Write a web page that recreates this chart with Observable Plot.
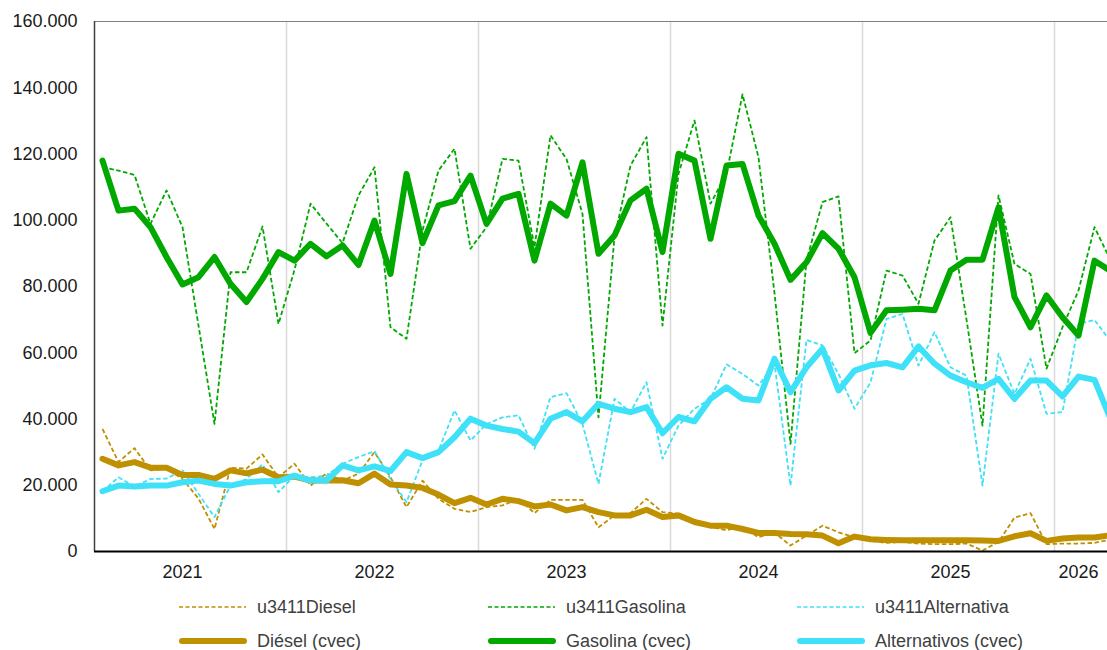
<!DOCTYPE html>
<html><head><meta charset="utf-8">
<script src="https://cdn.jsdelivr.net/npm/d3@7"></script>
<script src="https://cdn.jsdelivr.net/npm/@observablehq/plot@0.6"></script>
<style>
html,body{margin:0;padding:0;background:#fff;overflow:hidden;}
#wrap{width:1107px;height:650px;overflow:hidden;position:relative;font-family:"Liberation Sans",Arial,sans-serif;}
#chart{position:absolute;left:0;top:0;width:1120px;}
#chart svg{max-width:none !important;width:1120px;height:590px;}
#legend{position:absolute;left:0;top:590px;width:1107px;}
.row{display:grid;grid-template-columns:309px 309px 309px;padding-left:178px;height:34px;align-items:center;}
.item{display:flex;align-items:center;font-size:18px;color:#404040;white-space:nowrap;}
.item svg{margin-right:9px;}
</style></head><body><div id="wrap"><div id="chart"></div><div id="legend"></div></div>
<script>
// ---- data (monthly, Jan 2021 .. Apr 2026) ----
const years = ["2021","2022","2023","2024","2025","2026"];
const seriesNames = ["u3411Diesel","u3411Gasolina","u3411Alternativa","Diésel (cvec)","Gasolina (cvec)","Alternativos (cvec)"];

const dieU = [37000,27000,31200,24500,25000,21900,16000,6800,25300,25000,29300,22400,
26500,19900,23600,21400,23500,30000,22400,13400,21400,15900,12900,11900,
13400,13900,15900,11600,15600,15600,15600,7300,10900,11600,15900,11900,
11400,9400,7500,6400,7500,4300,5700,1800,4800,7800,5800,4300,
3200,2600,2900,2400,2200,2200,2400,300,2900,10200,11600,2200,
2400,2400,2600,3600];

const gasU = [116000,115000,113700,98900,109000,97900,68200,38500,84300,84300,98100,68700,
85000,105000,99000,93100,107500,116000,67700,64200,96900,115000,121600,91400,
97900,118500,118000,91900,125600,118500,101900,40500,94900,116500,125100,68200,
114000,130100,105000,114000,138000,119000,78000,32500,87800,105500,107200,59900,
63700,84800,83300,74800,93900,100900,70000,38000,107500,86800,83800,55200,
67700,78800,97900,88000];

const altU = [18200,22400,19600,21900,22000,24500,17400,10400,19900,21900,26300,17900,
22900,22400,22900,26500,28500,30300,21900,14900,27500,30500,42600,33500,
38500,40500,41100,31000,46600,47800,38500,20400,46100,42100,51100,28000,
38000,43100,46100,56500,53600,50100,56700,19900,63900,62200,53600,43100,
51000,70200,71700,56100,66200,55600,53100,19900,59700,47600,58200,41600,
42100,68700,69900,63500];

const dieC = [28000,26000,27000,25300,25300,23100,23100,21900,24500,23600,24700,22400,
22600,21400,21400,21500,20600,23500,20200,19900,19200,17200,14600,16200,
14200,15900,15200,13600,14200,12400,13400,11900,10900,10900,12600,10400,
10900,8900,7800,7800,6800,5600,5600,5300,5200,4800,2500,4500,
3700,3500,3400,3400,3400,3400,3400,3300,3200,4600,5500,3200,
3900,4200,4200,4900];

const gasC = [118000,102900,103500,97900,88900,80600,82800,88900,80800,75300,82300,90400,
87800,92900,89100,92400,86500,99900,83800,114000,93100,104500,105800,113500,
98900,106500,108000,87800,105000,101400,117500,89900,95400,106000,109500,90400,
120100,118000,94400,116500,117000,101400,92900,82000,87300,96100,91400,82800,
66000,72800,73000,73300,72800,84800,88100,88100,103900,76800,67700,77300,
70700,65200,87800,84700];

const altC = [18200,19900,19600,19900,19900,20900,21400,20400,19900,20900,21200,21200,
22900,21400,21400,26000,24500,25700,24300,30000,28200,30000,34500,40100,
38000,37000,36200,32700,40100,42100,39300,44600,43100,42100,43600,35700,
40600,39300,46100,49600,46100,45600,58200,48100,55600,61200,48600,54600,
56200,56900,55600,61900,56700,53100,51100,49400,52100,46100,51600,51600,
46800,52800,51800,40000];

const yTicks = [0,20000,40000,60000,80000,100000,120000,140000,160000];

// ---- styling ----
const COL = {die:"#bf9000", gas:"#00a800", alt:"#3ee1f8"};

const nM = gasC.length;
const toRows = vals => vals.map((v,i)=>({i, v}));
const gridPos = years.slice(1).map((y,k)=>(k+1)*12 - 0.5);
const labelPos = years.map((y,k)=>{const a=k*12, b=Math.min(k*12+11, nM-1); return (a+b)/2 - 0.5;});
const fmt = d3.formatLocale({decimal:",", thousands:".", grouping:[3], currency:["","€"]}).format(",");

const dashed = (vals, c) => Plot.line(toRows(vals), {x:"i", y:"v", stroke:c, strokeWidth:1.8, strokeDasharray:"4.5,2.5", strokeLinecap:"butt"});
const thick = (vals, c) => Plot.line(toRows(vals), {x:"i", y:"v", stroke:c, strokeWidth:6, strokeLinejoin:"round", strokeLinecap:"round"});

const chart = Plot.plot({
  width:1120, height:590,
  marginLeft:94, marginRight:2, marginTop:21, marginBottom:39,
  style:{fontFamily:"'Liberation Sans', Arial, sans-serif", fontSize:"18px", color:"#1a1a1a", background:"white", maxWidth:"none"},
  x:{type:"linear", domain:[-0.5, nM - 0.5]},
  y:{domain:[0,160000]},
  marks:[
    Plot.ruleX(gridPos, {stroke:"#d9d9d9", strokeWidth:1.5}),
    Plot.ruleY([160000], {stroke:"#7f7f7f", strokeWidth:1.2}),
    dashed(dieU, COL.die),
    dashed(gasU, COL.gas),
    dashed(altU, COL.alt),
    thick(dieC, COL.die),
    thick(gasC, COL.gas),
    thick(altC, COL.alt),
    Plot.ruleX([-0.5], {stroke:"#404040", strokeWidth:1.5}),
    Plot.ruleY([0], {stroke:"#000", strokeWidth:2}),
    Plot.axisY({ticks:yTicks, tickSize:0, tickPadding:17, tickFormat:d=>fmt(d), label:null}),
    Plot.axisX({ticks:labelPos, tickSize:0, tickPadding:14, tickFormat:d=>years[labelPos.indexOf(d)], label:null})
  ]
});
document.getElementById("chart").appendChild(chart);

// ---- legend ----
const legendItems = [
  [{n:seriesNames[0], c:COL.die, t:"d"}, {n:seriesNames[1], c:COL.gas, t:"d"}, {n:seriesNames[2], c:COL.alt, t:"d"}],
  [{n:seriesNames[3], c:COL.die, t:"s"}, {n:seriesNames[4], c:COL.gas, t:"s"}, {n:seriesNames[5], c:COL.alt, t:"s"}]
];
const leg = document.getElementById("legend");
legendItems.forEach(row=>{
  const r = document.createElement("div"); r.className="row";
  row.forEach(it=>{
    const d = document.createElement("div"); d.className="item";
    const sw = it.t==="d"
      ? `<svg width="70" height="10"><line x1="1" x2="68" y1="5" y2="5" stroke="${it.c}" stroke-width="1.6" stroke-dasharray="4,2.5"/></svg>`
      : `<svg width="70" height="10"><line x1="4" x2="66" y1="5" y2="5" stroke="${it.c}" stroke-width="6" stroke-linecap="round"/></svg>`;
    d.innerHTML = sw + `<span>${it.n}</span>`;
    r.appendChild(d);
  });
  leg.appendChild(r);
});
</script></body></html>
